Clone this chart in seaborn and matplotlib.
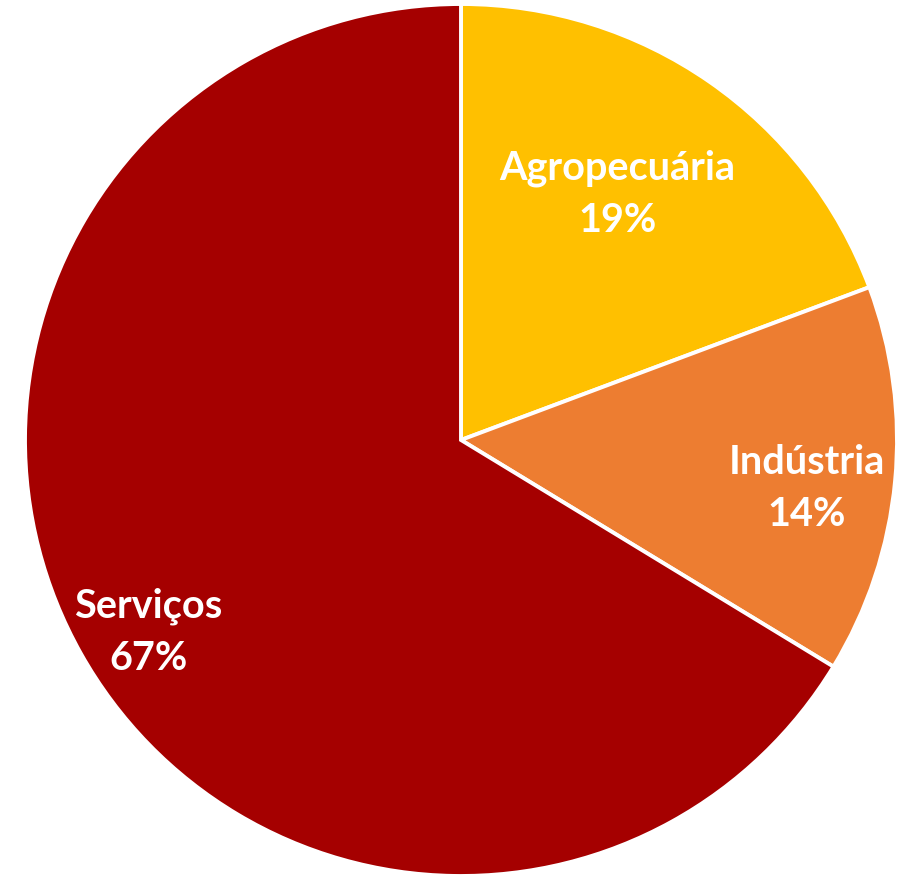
import seaborn as sns
import numpy as np
import matplotlib.pyplot as plt

# Sector shares and their printed labels
sectors = ["Agropecuária", "Indústria", "Serviços"]
shares = [19.3, 14.4, 66.3]
pct_labels = ["19%", "14%", "67%"]
colors = ["#FFC000", "#ED7D31", "#A50000"]

sns.set_style("white")
plt.rcParams['font.family'] = ['Lato', 'DejaVu Sans']

fig = plt.figure(figsize=(9.05, 8.78), dpi=100)
ax = fig.add_axes([0, 0, 1, 1])

wedges, _ = ax.pie(shares, colors=colors, startangle=90, counterclock=False,
                   radius=436, center=(461, 437),
                   wedgeprops=dict(edgecolor="white", linewidth=2.8))

# label placement like Excel "best fit": radius fraction, angle nudge
label_dist = [0.67, 0.80, 0.84]
label_turn = [2.4, -2.4, 2.1]
for w, name, pct, d, t in zip(wedges, sectors, pct_labels, label_dist, label_turn):
    mid = np.deg2rad((w.theta1 + w.theta2) / 2 + t)
    x = 461 + d * 436 * np.cos(mid)
    y = 437 + d * 436 * np.sin(mid)
    ax.text(x, y, f"{name}\n{pct}", ha="center", va="center", color="white",
            fontsize=28.5, fontweight="bold", linespacing=1.5)

ax.set_xlim(0, 905)
ax.set_ylim(0, 878)
ax.set_aspect("auto")
ax.axis("off")

fig.savefig("out.png", dpi=100)
